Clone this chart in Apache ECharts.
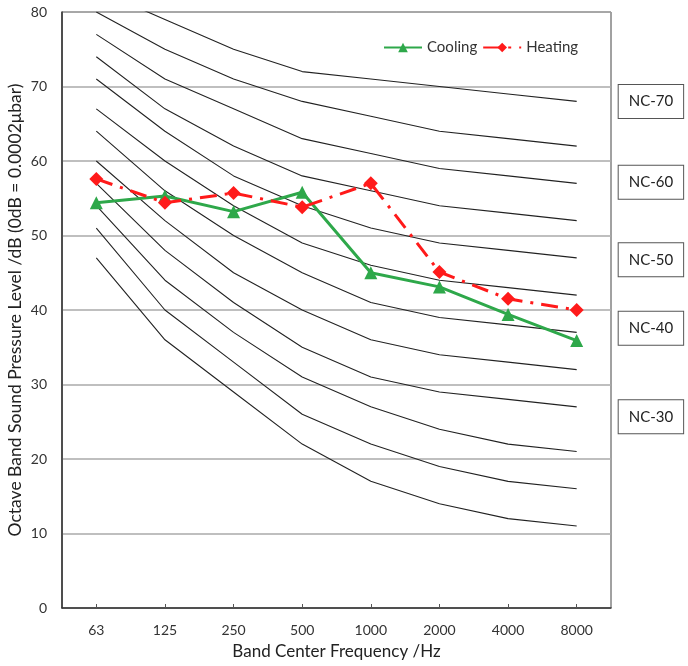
<!DOCTYPE html>
<html><head><meta charset="utf-8">
<script src="https://cdn.jsdelivr.net/npm/echarts@6/dist/echarts.min.js"></script>
<style>html,body{margin:0;padding:0;background:#fff}#c{width:688px;height:666px}</style>
</head><body><div id="c"></div>
<script>
const categories = ['63','125','250','500','1000','2000','4000','8000'];
const cooling = [54.4, 55.3, 53.2, 55.8, 45.0, 43.1, 39.4, 35.9];
const heating = [57.6, 54.4, 55.7, 53.8, 57.0, 45.1, 41.5, 40.0];
const ncNames = ['NC-70','NC-65','NC-60','NC-55','NC-50','NC-45','NC-40','NC-35','NC-30','NC-25','NC-20','NC-15'];
const nc70 = [83,79,75,72,71,70,69,68];
const nc65 = [80,75,71,68,66,64,63,62];
const nc60 = [77,71,67,63,61,59,58,57];
const nc55 = [74,67,62,58,56,54,53,52];
const nc50 = [71,64,58,54,51,49,48,47];
const nc45 = [67,60,54,49,46,44,43,42];
const nc40 = [64,56,50,45,41,39,38,37];
const nc35 = [60,52,45,40,36,34,33,32];
const nc30 = [57,48,41,35,31,29,28,27];
const nc25 = [54,44,37,31,27,24,22,21];
const nc20 = [51,40,33,26,22,19,17,16];
const nc15 = [47,36,29,22,17,14,12,11];
const ncData = [nc70,nc65,nc60,nc55,nc50,nc45,nc40,nc35,nc30,nc25,nc20,nc15];
const labelled = {'NC-70':0,'NC-60':-1,'NC-50':2,'NC-40':-4,'NC-30':10};
const yTicks = [0,10,20,30,40,50,60,70,80];

const FONT = 'Lato, "Open Sans", sans-serif';
const series = ncData.map((d,i)=>{
  const nm = ncNames[i];
  const lab = nm in labelled;
  return {
    name: nm, type:'line', data:d, symbol:'none', silent:true, clip:true, z:1,
    lineStyle:{color:'#222', width:1.1},
    endLabel: lab ? {show:true, formatter:nm, distance:42, offset:[0, labelled[nm]],
      fontFamily:FONT, fontSize:15, color:'#222', backgroundColor:'#fff',
      borderColor:'#555', borderWidth:1, padding:[9,10,9,10]} : {show:false}
  };
});
series.push({
  name:'Cooling', type:'line', data:cooling, z:5, symbol:'triangle', symbolSize:13,
  itemStyle:{color:'#2ea84a'}, lineStyle:{color:'#2ea84a', width:3}
});
series.push({
  name:'Heating', type:'line', data:heating, z:6, symbol:'diamond', symbolSize:14,
  itemStyle:{color:'#ff1a1a'}, lineStyle:{color:'#ff1a1a', width:3, type:[17,8,3,8]}
});

const chart = echarts.init(document.getElementById('c'), null, {renderer:'canvas'});
chart.setOption({
  animation:false,
  backgroundColor:'#fff',
  textStyle:{fontFamily:FONT},
  legend:{data:['Cooling','Heating'], top:35, left:378, itemWidth:38, itemHeight:12, itemGap:5,
    textStyle:{fontFamily:FONT, fontSize:15, color:'#333'}},
  grid:{left:62, right:77, top:12, bottom:58, show:true, borderColor:'#444', borderWidth:1,
    containLabel:false, outerBoundsMode:'none'},
  xAxis:{type:'category', data:categories, boundaryGap:true,
    name:'Band Center Frequency /Hz', nameLocation:'middle', nameGap:35, nameMoveOverlap:false,
    nameTextStyle:{fontFamily:FONT, fontSize:17, color:'#222'},
    axisLine:{lineStyle:{color:'#333', width:1.5}},
    axisTick:{show:true, alignWithLabel:true, inside:true, length:4, lineStyle:{color:'#555'}},
    axisLabel:{margin:15, fontFamily:FONT, fontSize:14, color:'#333'},
    splitLine:{show:false}},
  yAxis:{type:'value', min:yTicks[0], max:yTicks[yTicks.length-1], interval:10,
    name:'Octave Band Sound Pressure Level /dB (0dB = 0.0002\u03bcbar)', nameLocation:'middle', nameGap:38,
    nameMoveOverlap:false,
    nameTextStyle:{fontFamily:FONT, fontSize:17.5, color:'#222'},
    axisLine:{show:true, lineStyle:{color:'#333', width:1.5}},
    axisTick:{show:false},
    axisLabel:{margin:15, fontFamily:FONT, fontSize:14, color:'#333'},
    splitLine:{show:true, lineStyle:{color:'#aaa', width:1.5}}},
  series: series
});
</script></body></html>
